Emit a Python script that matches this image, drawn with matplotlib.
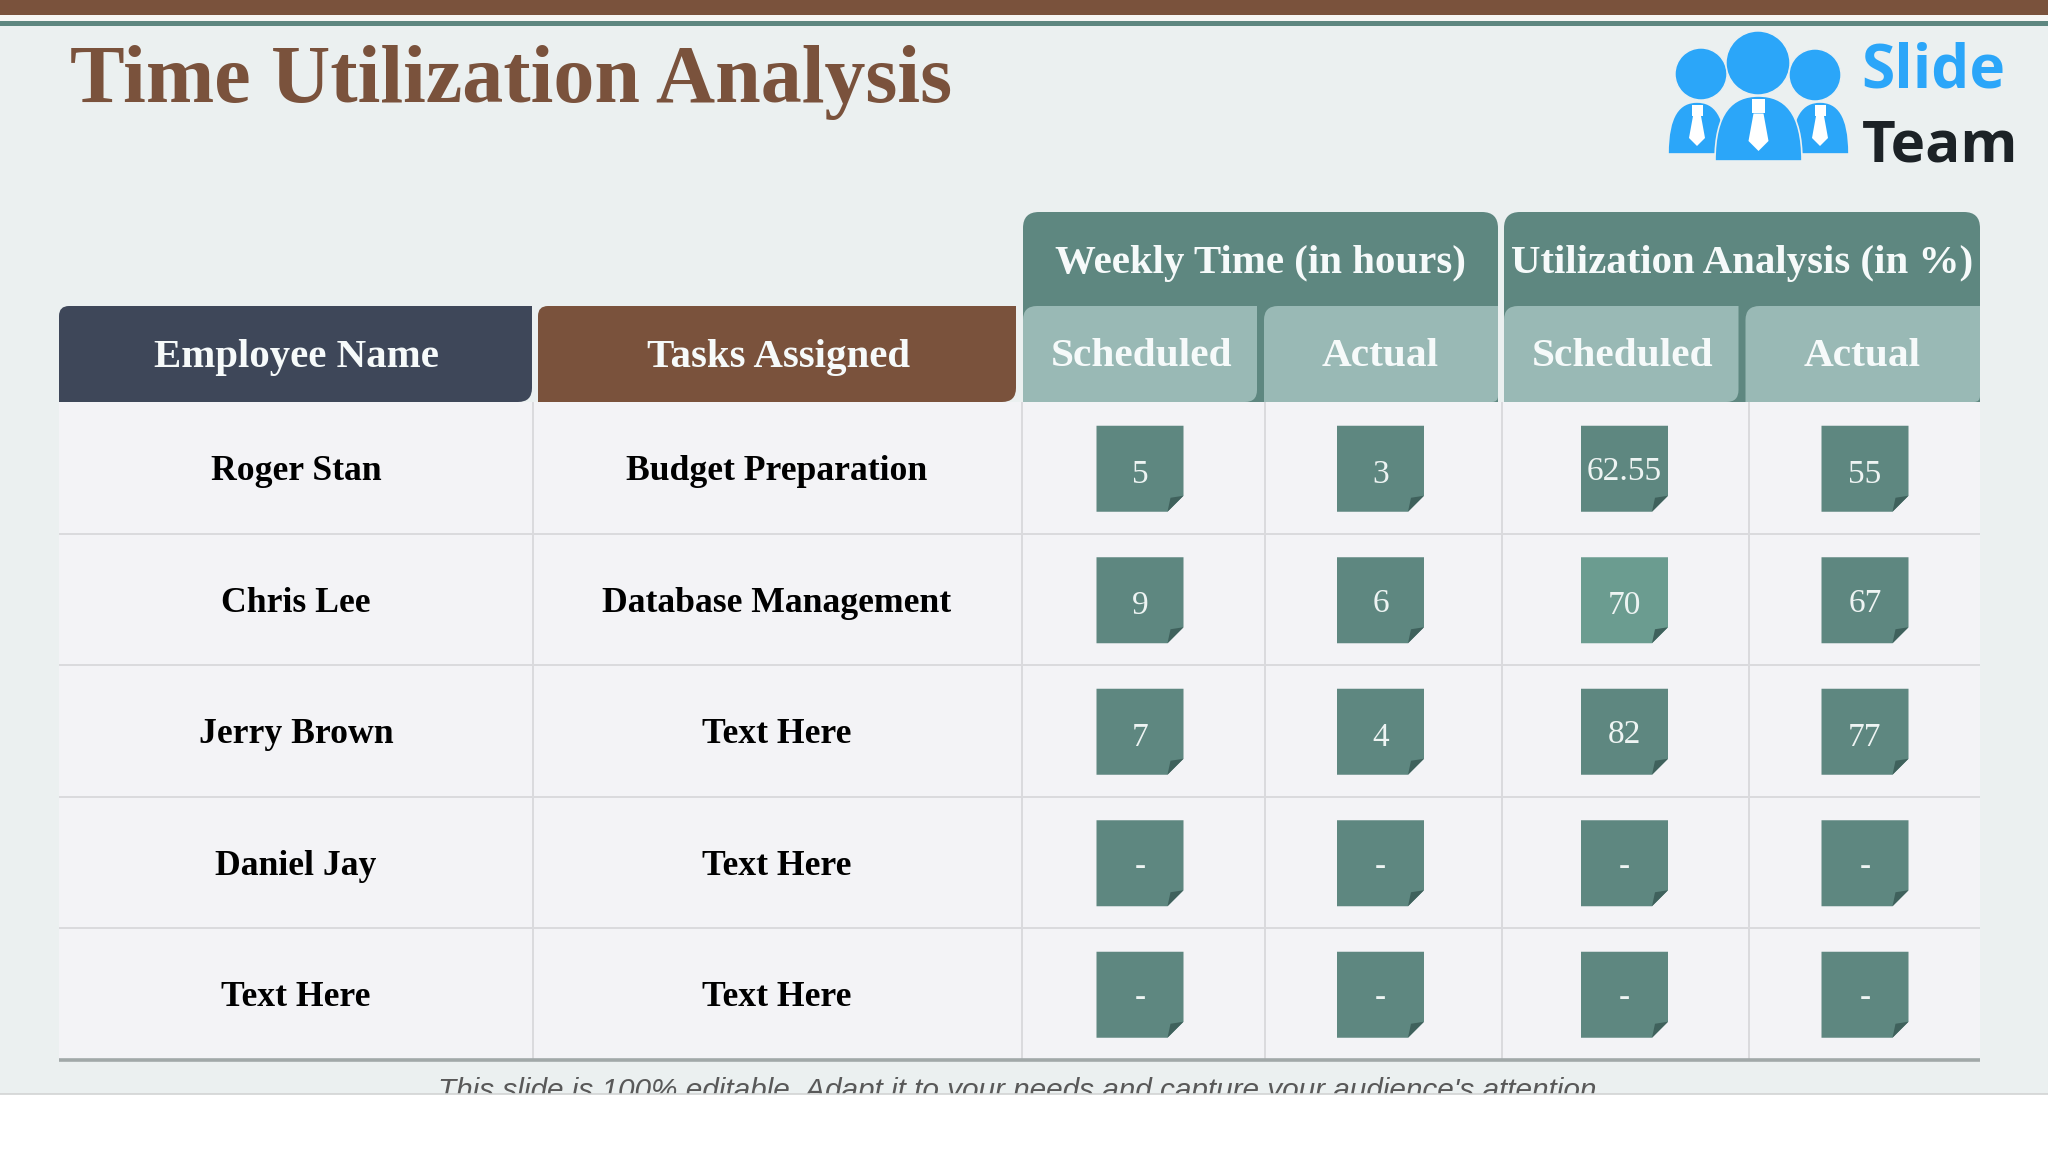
import matplotlib
matplotlib.use("Agg")
import matplotlib.pyplot as plt
from matplotlib.patches import Circle, PathPatch, Polygon, Rectangle
from matplotlib.path import Path

# table contents
employees = ["Roger Stan", "Chris Lee", "Jerry Brown", "Daniel Jay", "Text Here"]
tasks = ["Budget Preparation", "Database Management", "Text Here", "Text Here", "Text Here"]
hours_scheduled = ["5", "9", "7", "-", "-"]
hours_actual = ["3", "6", "4", "-", "-"]
util_scheduled = ["62.55", "70", "82", "-", "-"]
util_actual = ["55", "67", "77", "-", "-"]
value_columns = [hours_scheduled, hours_actual, util_scheduled, util_actual]

BROWN = "#7a523c"
NAVY = "#3e4759"
GREEN = "#5e8780"
GREEN_LIGHT = "#6b9c90"
GREEN_DARK = "#3f615c"
TEAL_PALE = "#99b9b5"
BLUE = "#2ba6f9"
BACKGROUND = "#ebf0f0"
SERIF = "Liberation Serif"

# layout, in pixels of the 2048x1152 picture
row_top = 402
row_h = 131.5
grid_x = [59, 533, 1022, 1265, 1502, 1749, 1980]
chip_x = [1140, 1380.5, 1624.5, 1865]


def round_box(ax, x0, y0, x1, y1, color, tl=0, tr=0, br=0, bl=0, zorder=2):
    # box with its own radius on each corner (y axis points down)
    verts = [(x0 + tl, y0), (x1 - tr, y0), (x1, y0), (x1, y0 + tr),
             (x1, y1 - br), (x1, y1), (x1 - br, y1),
             (x0 + bl, y1), (x0, y1), (x0, y1 - bl),
             (x0, y0 + tl), (x0, y0), (x0 + tl, y0), (x0 + tl, y0)]
    codes = [Path.MOVETO, Path.LINETO, Path.CURVE3, Path.CURVE3,
             Path.LINETO, Path.CURVE3, Path.CURVE3,
             Path.LINETO, Path.CURVE3, Path.CURVE3,
             Path.LINETO, Path.CURVE3, Path.CURVE3, Path.CLOSEPOLY]
    ax.add_patch(PathPatch(Path(verts, codes), fc=color, ec="none", zorder=zorder))


def logo_body(ax, x0, x1, y0, y1, zorder):
    # domed shoulders with a tie on top
    mid = (x0 + x1) / 2
    verts = [(x0, y1), (x0, y0 + (y1 - y0) * 0.25), (x0 + (x1 - x0) * 0.2, y0), (mid, y0),
             (x1 - (x1 - x0) * 0.2, y0), (x1, y0 + (y1 - y0) * 0.25), (x1, y1), (x0, y1)]
    codes = [Path.MOVETO, Path.CURVE4, Path.CURVE4, Path.CURVE4,
             Path.CURVE4, Path.CURVE4, Path.CURVE4, Path.CLOSEPOLY]
    ax.add_patch(PathPatch(Path(verts, codes), fc=BLUE, ec=BACKGROUND, lw=1.2, zorder=zorder))
    s = 1.25 if x1 - x0 > 70 else 1.0
    ax.add_patch(Rectangle((mid - 5.5 * s, y0 + 3), 11 * s, 11 * s, fc="white", ec="none", zorder=zorder))
    ax.add_patch(Polygon([(mid - 4 * s, y0 + 14 * s), (mid + 4 * s, y0 + 14 * s), (mid + 8 * s, y0 + 36 * s),
                          (mid, y0 + 44 * s), (mid - 8 * s, y0 + 36 * s)], fc="white", ec="none", zorder=zorder))


def head_label(ax, x, y, s, size):
    ax.text(x, y, s, ha="center", va="center", color="#f6fafa", fontsize=size,
            fontweight="bold", family=SERIF, zorder=5)


fig = plt.figure(figsize=(20.48, 11.52), dpi=100, facecolor="white")
ax = fig.add_axes([0, 0, 1, 1])
ax.set_xlim(0, 2048)
ax.set_ylim(1152, 0)
ax.axis("off")

# slide background and top bands
ax.add_patch(Rectangle((0, 0), 2048, 1094, fc=BACKGROUND, ec="none", zorder=0))
ax.add_patch(Rectangle((0, 0), 2048, 15, fc=BROWN, ec="none", zorder=1))
ax.add_patch(Rectangle((0, 15), 2048, 6, fc="#f6f6f4", ec="none", zorder=1))
ax.add_patch(Rectangle((0, 21), 2048, 5, fc=GREEN, ec="none", zorder=1))

ax.text(70, 83, "Time Utilization Analysis", color=BROWN, fontsize=59, fontweight="bold",
        family=SERIF, ha="left", va="center", zorder=5)

# logo
for cx, cy, r in [(1701, 74, 26), (1758, 63, 32), (1815, 75, 26)]:
    ax.add_patch(Circle((cx, cy), r, fc=BLUE, ec=BACKGROUND, lw=1, zorder=3))
logo_body(ax, 1668, 1726, 102, 154, 3)
logo_body(ax, 1791, 1849, 102, 154, 3)
logo_body(ax, 1715, 1802, 96, 161, 4)
ax.text(1861, 72, "Slide", color=BLUE, fontsize=43.5, fontweight="bold", family="Open Sans",
        ha="left", va="center", zorder=5)
ax.text(1862, 146, "Team", color="#1c2226", fontsize=42, fontweight="bold", family="Open Sans",
        ha="left", va="center", zorder=5)

# table body
n_rows = len(employees)
table_bottom = row_top + row_h * n_rows
ax.add_patch(Rectangle((grid_x[0], row_top), grid_x[-1] - grid_x[0], table_bottom - row_top,
                       fc="#f3f3f6", ec="none", zorder=1))
for i in range(1, n_rows):
    y = row_top + row_h * i
    ax.plot([grid_x[0], grid_x[-1]], [y, y], color="#dadadd", lw=1.4, zorder=2, solid_capstyle="butt")
for x in grid_x[1:-1]:
    ax.plot([x, x], [row_top, table_bottom], color="#dadadd", lw=1.4, zorder=2, solid_capstyle="butt")
ax.plot([grid_x[0], grid_x[-1]], [table_bottom, table_bottom], color="#a1a8a8", lw=2.6, zorder=3,
        solid_capstyle="butt")

# header boxes
round_box(ax, 59, 306, 532, 402, NAVY, tl=10, br=14)
round_box(ax, 538, 306, 1016, 402, BROWN, tl=10, br=14)
head_label(ax, 296, 357, "Employee Name", 29.4)
head_label(ax, 779, 357, "Tasks Assigned", 29.4)

group_spans = [(1023, 1498, "Weekly Time (in hours)"), (1504, 1980, "Utilization Analysis (in %)")]
for x0, x1, label in group_spans:
    round_box(ax, x0, 212, x1, 402, GREEN, tl=16, tr=16)
    head_label(ax, (x0 + x1) / 2, 263, label, 29.4)
    split = (x0 + x1) / 2
    round_box(ax, x0, 306, split - 3.5, 402, TEAL_PALE, tl=14, br=12, zorder=3)
    round_box(ax, split + 3.5, 306, x1, 402, TEAL_PALE, tl=14, br=6, zorder=3)
    head_label(ax, (x0 + split) / 2, 357, "Scheduled", 29.8)
    head_label(ax, (split + x1) / 2 + 1, 357, "Actual", 29.8)

# row labels
for i in range(n_rows):
    yc = row_top + row_h * (i + 0.5) + 4
    ax.text(296, yc, employees[i], ha="center", va="center", fontsize=25.7, fontweight="bold",
            family=SERIF, color="black", zorder=5)
    ax.text(777, yc, tasks[i], ha="center", va="center", fontsize=25.7, fontweight="bold",
            family=SERIF, color="black", zorder=5)

# value chips with a folded corner
chip_w, chip_h, fold = 87, 86, 16
for c, col in enumerate(value_columns):
    for i, val in enumerate(col):
        yc = row_top + row_h * (i + 0.5) + 1
        x0, x1 = chip_x[c] - chip_w / 2, chip_x[c] + chip_w / 2
        y0, y1 = yc - chip_h / 2, yc + chip_h / 2
        face = GREEN_LIGHT if val == "70" else GREEN
        ax.add_patch(Polygon([(x0, y0), (x1, y0), (x1, y1 - fold), (x1 - fold, y1), (x0, y1)],
                             fc=face, ec="none", zorder=3))
        ax.add_patch(Polygon([(x1, y1 - fold), (x1 - fold, y1), (x1 - fold + 3, y1 - fold + 2)],
                             fc=GREEN_DARK, ec="none", zorder=4))
        # the original digits are old-style, the odd ones sit lower
        drop = 6 if val[0] in "34579" else 3
        ax.text(chip_x[c], yc + drop, val, ha="center", va="center", fontsize=24, color="#eef4f3",
                family=SERIF, zorder=5)

# footnote, cut off by the white strip
ax.text(1021, 1077, "This slide is 100% editable. Adapt it to your needs and capture your audience's attention.",
        ha="center", va="top", fontsize=21.4, style="italic", family="Liberation Sans", color="#595959", zorder=2)
ax.add_patch(Rectangle((0, 1094), 2048, 58, fc="white", ec="none", zorder=6))
ax.plot([0, 2048], [1094, 1094], color="#d2d4d4", lw=1.2, zorder=7)

fig.savefig("out.png", dpi=100, facecolor="white")
